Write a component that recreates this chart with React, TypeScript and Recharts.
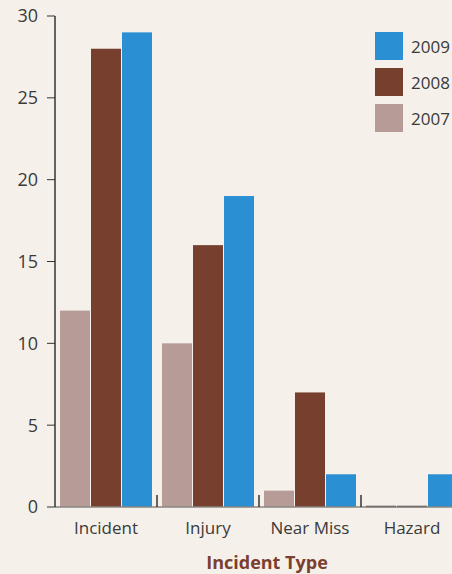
import { Bar, BarChart, XAxis, YAxis } from "recharts";

const categories = ["Incident", "Injury", "Near Miss", "Hazard"];
const values2007 = [12, 10, 1, 0];
const values2008 = [28, 16, 7, 0];
const values2009 = [29, 19, 2, 2];
const yTicks = [0, 5, 10, 15, 20, 25, 30];

const chartData = categories.map((name, i) => ({
  name,
  y2007: values2007[i],
  y2008: values2008[i],
  y2009: values2009[i],
}));

const FONT = "'Open Sans', 'DejaVu Sans', sans-serif";
const COLORS = { y2007: "#b69b97", y2008: "#773f2e", y2009: "#2a8fd3" };
const LEGEND_ORDER = [
  { key: "y2009", label: "2009" },
  { key: "y2008", label: "2008" },
  { key: "y2007", label: "2007" },
];

const PLOT_LEFT = 55;
const PLOT_RIGHT = 463;
const BAND = (PLOT_RIGHT - PLOT_LEFT) / categories.length;

// zero-height bars still show as a thin dark line on the baseline
const BarShape = (props: any) => {
  const { x, y, width, height, fill } = props;
  if (!height) {
    return <line x1={x} x2={x + width} y1={y - 0.5} y2={y - 0.5} stroke="#3a3333" strokeWidth={1.5} />;
  }
  return <rect x={x} y={y} width={width} height={height} fill={fill} />;
};

const CategoryTick = ({ x, y, payload, index }: any) => (
  <g>
    {index > 0 && (
      <line x1={x - BAND / 2} x2={x - BAND / 2} y1={y - 20} y2={y - 8} stroke="#333" strokeWidth={1.5} />
    )}
    <text x={x} y={y + 19} textAnchor="middle" fill="#3a3a3a" fontSize={17} fontFamily={FONT}>
      {payload.value}
    </text>
  </g>
);

const LegendBox = () => (
  <div style={{ position: "absolute", left: 375, top: 32, fontFamily: FONT }}>
    {LEGEND_ORDER.map((item) => (
      <div key={item.key} style={{ display: "flex", alignItems: "center", height: 28, marginBottom: 8 }}>
        <div style={{ width: 28, height: 28, background: (COLORS as any)[item.key] }} />
        <span style={{ marginLeft: 8, fontSize: 17, color: "#3a3a3a" }}>{item.label}</span>
      </div>
    ))}
  </div>
);

export default function App() {
  return (
    <div
      style={{
        position: "absolute",
        left: 0,
        top: 0,
        width: 452,
        height: 574,
        overflow: "hidden",
        background: "#f5f1ea",
      }}
    >
      <BarChart
        width={470}
        height={574}
        data={chartData}
        margin={{ top: 16, right: 7, left: 0, bottom: 0 }}
        barSize={30}
        barGap={1}
      >
        <XAxis
          dataKey="name"
          height={67}
          tick={<CategoryTick />}
          tickLine={false}
          axisLine={{ stroke: "#8a8580", strokeWidth: 1.5 }}
          interval={0}
          label={{
            value: "Incident Type",
            position: "insideBottom",
            offset: 5,
            dx: 8,
            fill: "#7b3f2f",
            fontSize: 18,
            fontWeight: 700,
            fontFamily: FONT,
          }}
        />
        <YAxis
          width={55}
          domain={[0, 30]}
          ticks={yTicks}
          interval={0}
          tickSize={8}
          tickMargin={9}
          tick={{ fill: "#3a3a3a", fontSize: 18, fontFamily: FONT }}
          tickLine={{ stroke: "#333" }}
          axisLine={{ stroke: "#333", strokeWidth: 1.5 }}
        />
        <Bar dataKey="y2007" fill={COLORS.y2007} shape={<BarShape />} isAnimationActive={false} />
        <Bar dataKey="y2008" fill={COLORS.y2008} shape={<BarShape />} isAnimationActive={false} />
        <Bar dataKey="y2009" fill={COLORS.y2009} shape={<BarShape />} isAnimationActive={false} />
      </BarChart>
      <LegendBox />
    </div>
  );
}
